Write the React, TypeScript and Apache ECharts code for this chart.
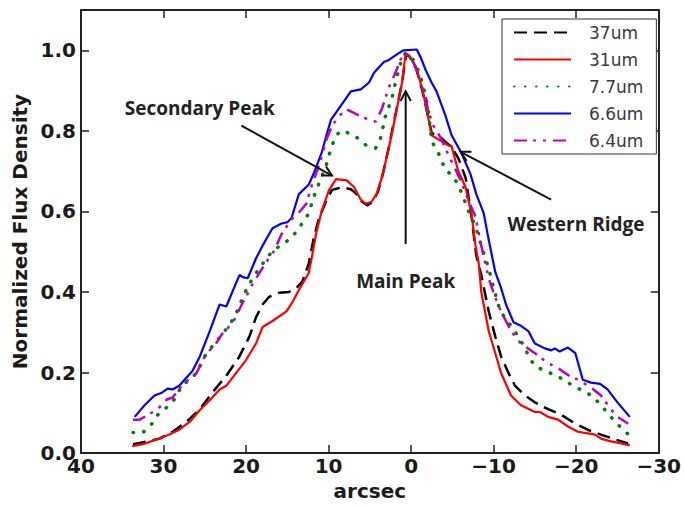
import React, { useEffect, useRef } from "react";
import * as echarts from "echarts";

const seriesNames = ["37um", "31um", "7.7um", "6.6um", "6.4um"];

const data37: number[][] = [
  [33.7, 0.022], [32.0, 0.029], [30.5, 0.036], [28.9, 0.053], [27.2, 0.078], [25.6, 0.109],
  [24.1, 0.15], [22.4, 0.192], [20.8, 0.24], [19.6, 0.289], [18.8, 0.337], [18.0, 0.369],
  [17.2, 0.388], [16.0, 0.398], [14.8, 0.4], [13.9, 0.41], [13.2, 0.425], [12.4, 0.47],
  [11.8, 0.534], [11.2, 0.58], [10.3, 0.626], [9.6, 0.653], [8.4, 0.66], [7.3, 0.655],
  [6.7, 0.645], [6.0, 0.625], [5.3, 0.615], [4.6, 0.625], [4.0, 0.65], [3.4, 0.695],
  [2.7, 0.76], [1.9, 0.84], [1.1, 0.92], [0.6, 0.99], [0.2, 0.985], [-0.6, 0.955],
  [-1.3, 0.905], [-1.9, 0.85], [-2.5, 0.794], [-3.3, 0.789], [-4.2, 0.772], [-4.9, 0.76],
  [-5.7, 0.733], [-6.6, 0.684], [-7.3, 0.59], [-7.9, 0.49], [-8.5, 0.442], [-9.4, 0.352],
  [-10.2, 0.289], [-10.9, 0.24], [-11.8, 0.199], [-12.6, 0.167], [-13.8, 0.143], [-15.0, 0.126],
  [-16.6, 0.109], [-18.2, 0.095], [-19.9, 0.073], [-21.4, 0.058], [-23.0, 0.046], [-24.7, 0.034],
  [-26.3, 0.024],
];

const data31: number[][] = [
  [33.8, 0.017], [32.5, 0.022], [30.8, 0.034], [29.3, 0.046], [28.1, 0.058], [26.8, 0.078],
  [25.6, 0.107], [24.4, 0.131], [23.2, 0.158], [22.4, 0.167], [21.2, 0.199], [20.0, 0.231],
  [18.8, 0.272], [18.0, 0.313], [16.8, 0.328], [15.1, 0.352], [14.4, 0.374], [13.6, 0.405],
  [12.4, 0.447], [12.0, 0.49], [11.5, 0.546], [10.8, 0.604], [9.95, 0.653], [9.1, 0.68],
  [7.8, 0.677], [6.9, 0.66], [6.1, 0.629], [5.5, 0.619], [4.8, 0.624], [4.2, 0.643],
  [3.55, 0.684], [2.7, 0.757], [1.9, 0.837], [1.1, 0.92], [0.66, 0.993], [0.3, 0.988],
  [-0.55, 0.959], [-1.27, 0.91], [-1.88, 0.854], [-2.48, 0.789], [-3.7, 0.774], [-4.5, 0.764],
  [-4.9, 0.762], [-5.7, 0.701], [-6.6, 0.66], [-7.3, 0.595], [-7.8, 0.515], [-8.2, 0.47],
  [-8.5, 0.4], [-9.4, 0.303], [-10.2, 0.248], [-10.9, 0.199], [-12.1, 0.143], [-13.3, 0.119],
  [-15.0, 0.102], [-15.6, 0.102], [-16.6, 0.09], [-17.8, 0.083], [-19.0, 0.066], [-20.2, 0.053],
  [-21.4, 0.049], [-22.3, 0.046], [-23.0, 0.036], [-24.2, 0.029], [-25.4, 0.024], [-26.5, 0.019],
];

const data77: number[][] = [
  [33.7, 0.051], [32.5, 0.051], [31.4, 0.073], [30.7, 0.095], [29.6, 0.114], [28.7, 0.133],
  [27.7, 0.17], [26.8, 0.182], [26.0, 0.199], [24.8, 0.248], [23.8, 0.272], [22.4, 0.308],
  [21.4, 0.337], [20.4, 0.386], [19.8, 0.413], [19.2, 0.434], [18.4, 0.459], [16.8, 0.502],
  [14.5, 0.534], [13.6, 0.558], [12.4, 0.595], [11.8, 0.636], [11.2, 0.668], [10.3, 0.714],
  [9.7, 0.757], [9.1, 0.789], [8.4, 0.801], [6.9, 0.789], [5.5, 0.765], [4.3, 0.757],
  [3.7, 0.782], [3.1, 0.837], [2.3, 0.883], [1.9, 0.92], [1.5, 0.951], [1.1, 0.981],
  [0.66, 0.993], [-0.07, 0.983], [-0.67, 0.959], [-1.15, 0.934], [-1.76, 0.886], [-2.1, 0.847],
  [-2.5, 0.774], [-3.3, 0.745], [-4.2, 0.701], [-4.9, 0.692], [-5.7, 0.667], [-6.3, 0.636],
  [-6.9, 0.604], [-7.8, 0.563], [-8.5, 0.515], [-9.4, 0.459], [-10.0, 0.41], [-10.8, 0.352],
  [-11.8, 0.325], [-13.0, 0.289], [-13.8, 0.26], [-14.4, 0.235], [-15.0, 0.216], [-16.2, 0.204],
  [-17.4, 0.194], [-18.7, 0.18], [-19.6, 0.167], [-20.8, 0.155], [-22.0, 0.141], [-23.0, 0.119],
  [-24.7, 0.078], [-25.7, 0.058], [-26.4, 0.045],
];

const data66: number[][] = [
  [33.5, 0.09], [32.3, 0.119], [31.1, 0.143], [30.2, 0.15], [29.5, 0.16], [28.9, 0.158],
  [28.1, 0.167], [26.5, 0.204], [25.6, 0.24], [24.4, 0.303], [23.2, 0.369], [22.4, 0.364],
  [20.8, 0.442], [20.4, 0.437], [19.8, 0.434], [18.8, 0.483], [18.0, 0.515], [16.8, 0.558],
  [15.7, 0.57], [15.0, 0.573], [14.5, 0.583], [13.6, 0.643], [12.4, 0.667], [11.8, 0.694],
  [10.8, 0.748], [10.3, 0.786], [9.7, 0.828], [8.4, 0.866], [7.3, 0.898], [6.1, 0.903],
  [5.1, 0.92], [4.5, 0.944], [3.3, 0.971], [2.7, 0.976], [1.5, 0.993], [0.9, 1.0],
  [-0.67, 1.002], [-1.15, 0.983], [-1.76, 0.951], [-2.48, 0.92], [-3.08, 0.898], [-4.17, 0.837],
  [-4.9, 0.789], [-6.1, 0.745], [-7.2, 0.692], [-7.9, 0.643], [-8.8, 0.595], [-9.3, 0.54],
  [-10.2, 0.449], [-10.9, 0.41], [-11.5, 0.369], [-12.4, 0.325], [-13.3, 0.316], [-14.2, 0.303],
  [-15.0, 0.272], [-16.2, 0.26], [-17.0, 0.255], [-17.4, 0.26], [-18.0, 0.252], [-19.0, 0.262],
  [-19.9, 0.248], [-20.8, 0.182], [-21.8, 0.175], [-22.9, 0.172], [-23.8, 0.158], [-25.0, 0.126],
  [-26.5, 0.09],
];

const data64: number[][] = [
  [33.7, 0.083], [32.9, 0.083], [31.7, 0.097], [30.7, 0.109], [29.6, 0.133], [28.9, 0.138],
  [27.7, 0.17], [26.0, 0.199], [24.8, 0.248], [23.8, 0.267], [22.9, 0.296], [22.3, 0.308],
  [21.4, 0.332], [20.4, 0.374], [20.0, 0.388], [19.4, 0.413], [18.4, 0.447], [17.6, 0.473],
  [16.6, 0.502], [15.7, 0.544], [14.4, 0.583], [13.8, 0.592], [12.7, 0.619], [12.1, 0.66],
  [11.4, 0.701], [10.8, 0.738], [10.2, 0.782], [9.6, 0.811], [9.0, 0.83], [7.9, 0.854],
  [6.7, 0.842], [5.4, 0.83], [4.3, 0.823], [3.55, 0.854], [2.7, 0.908], [1.9, 0.944],
  [1.3, 0.976], [0.9, 0.993], [0.06, 0.983], [-0.55, 0.959], [-1.15, 0.927], [-1.76, 0.883],
  [-2.1, 0.847], [-2.7, 0.813], [-3.6, 0.782], [-4.3, 0.75], [-5.1, 0.716], [-6.0, 0.677],
  [-6.9, 0.629], [-7.8, 0.587], [-8.5, 0.515], [-9.4, 0.434], [-10.2, 0.386], [-10.9, 0.352],
  [-12.1, 0.303], [-13.3, 0.272], [-15.0, 0.248], [-16.6, 0.223], [-17.8, 0.211], [-19.0, 0.194],
  [-20.2, 0.182], [-21.8, 0.163], [-23.0, 0.143], [-24.2, 0.109], [-25.0, 0.09], [-26.3, 0.073],
];

const annotationTexts = ["Secondary Peak", "Main Peak", "Western Ridge"];

const AXIS_COLOR = "#222";
const TICK_FONT = "DejaVu Sans";

function fmtX(v: number) {
  return v < 0 ? "\u2212" + Math.abs(v) : String(v);
}

export default function App() {
  const ref = useRef<HTMLDivElement | null>(null);

  useEffect(() => {
    if (!ref.current) return;
    const chart = echarts.init(ref.current, undefined, { renderer: "svg" });

    const axisLine = { show: true, onZero: false, lineStyle: { color: AXIS_COLOR, width: 2 } };
    const axisTick = { show: true, inside: true, length: 8, lineStyle: { color: AXIS_COLOR, width: 1.5 } };
    const labelStyle = {
      fontFamily: TICK_FONT,
      fontWeight: "bold" as const,
      fontSize: 20,
      color: "#1a1a1a",
    };

    const lineSeries = (name: string, data: number[][], color: string, width: number, type: any, extra: any = {}) => ({
      name,
      type: "line",
      data,
      symbol: "none",
      xAxisIndex: 0,
      yAxisIndex: 0,
      itemStyle: { color },
      lineStyle: { color, width, type, ...extra },
    });

    chart.setOption({
      animation: false,
      backgroundColor: "#fff",
      grid: { left: 81, right: 23, top: 10, bottom: 44, containLabel: false },
      xAxis: [
        {
          type: "value",
          inverse: true,
          min: -30,
          max: 40,
          interval: 10,
          position: "bottom",
          axisLine,
          axisTick,
          splitLine: { show: false },
          axisLabel: { ...labelStyle, margin: 3, formatter: fmtX },
          name: "arcsec",
          nameLocation: "middle",
          nameGap: 22,
          nameTextStyle: { ...labelStyle },
        },
        {
          type: "value",
          inverse: true,
          min: -30,
          max: 40,
          interval: 10,
          position: "top",
          axisLine,
          axisTick,
          splitLine: { show: false },
          axisLabel: { show: false },
        },
      ],
      yAxis: [
        {
          type: "value",
          min: 0,
          max: 1.1,
          interval: 0.2,
          position: "left",
          axisLine,
          axisTick,
          splitLine: { show: false },
          axisLabel: {
            ...labelStyle,
            margin: 5,
            showMaxLabel: false,
            formatter: (v: number) => (v > 1.05 ? "" : v.toFixed(1)),
          },
          name: "Normalized Flux Density",
          nameLocation: "middle",
          nameGap: 48,
          nameTextStyle: { ...labelStyle },
        },
        {
          type: "value",
          min: 0,
          max: 1.1,
          interval: 0.2,
          position: "right",
          axisLine,
          axisTick,
          splitLine: { show: false },
          axisLabel: { show: false },
        },
      ],
      legend: {
        data: seriesNames,
        orient: "vertical",
        left: 502,
        top: 19,
        itemWidth: 57,
        itemHeight: 14,
        itemGap: 10,
        itemStyle: { opacity: 0 },
        backgroundColor: "#fff",
        borderColor: "#333",
        borderWidth: 1,
        borderRadius: 0,
        padding: [5, 13, 5, 11],
        textStyle: { fontFamily: "DejaVu Sans", fontSize: 17, color: "#3a3a3a", padding: [0, 0, 0, 13] },
      },
      series: [
        lineSeries(seriesNames[0], data37, "#000000", 2.5, [13, 7]),
        lineSeries(seriesNames[1], data31, "#ff0000", 2.2, "solid"),
        lineSeries(seriesNames[2], data77, "#008000", 3.5, [0.5, 10.5], { cap: "round" }),
        lineSeries(seriesNames[3], data66, "#0000ff", 2.2, "solid"),
        lineSeries(seriesNames[4], data64, "#bf00bf", 2.5, [13, 6, 3, 7, 3, 7]),
      ],
    });

    // annotations placed in data coordinates, converted through the axes
    const annots = [
      { text: annotationTexts[0], at: [34.7, 0.857], align: "left", from: [20.57, 0.813], to: [9.59, 0.689] },
      { text: annotationTexts[1], at: [0.66, 0.427], align: "center", from: [0.66, 0.519], to: [0.66, 0.898] },
      { text: annotationTexts[2], at: [-19.98, 0.568], align: "center", from: [-16.96, 0.629], to: [-5.98, 0.748] },
    ];
    const toPx = (p: number[]) => chart.convertToPixel({ xAxisIndex: 0, yAxisIndex: 0 }, p) as number[];
    const graphics: any[] = [];
    annots.forEach((a) => {
      const t = toPx(a.at);
      const s = toPx(a.from);
      const e = toPx(a.to);
      const dx = e[0] - s[0];
      const dy = e[1] - s[1];
      const len = Math.hypot(dx, dy);
      const ux = dx / len;
      const uy = dy / len;
      const L = 11;
      const ang = (28 * Math.PI) / 180;
      const arm = (sgn: number) => {
        const c = Math.cos(sgn * ang);
        const sn = Math.sin(sgn * ang);
        const rx = ux * c - uy * sn;
        const ry = ux * sn + uy * c;
        return [e[0] - L * rx, e[1] - L * ry];
      };
      graphics.push({
        type: "line",
        shape: { x1: s[0], y1: s[1], x2: e[0], y2: e[1] },
        style: { stroke: "#111", lineWidth: 2 },
        z: 100,
      });
      graphics.push({
        type: "polyline",
        shape: { points: [arm(1), e, arm(-1)] },
        style: { stroke: "#111", lineWidth: 2, fill: null },
        z: 100,
      });
      graphics.push({
        type: "text",
        x: t[0],
        y: t[1],
        z: 100,
        style: {
          text: a.text,
          fontFamily: "Open Sans",
          fontWeight: "bold",
          fontSize: 19,
          fill: "#222",
          align: a.align,
          verticalAlign: "middle",
          textAlign: a.align,
          textVerticalAlign: "middle",
        },
      });
    });
    chart.setOption({ graphic: graphics });

    return () => chart.dispose();
  }, []);

  return (
    <div
      ref={ref}
      style={{ position: "fixed", left: 0, top: 0, width: 684, height: 506, background: "#fff" }}
    />
  );
}
